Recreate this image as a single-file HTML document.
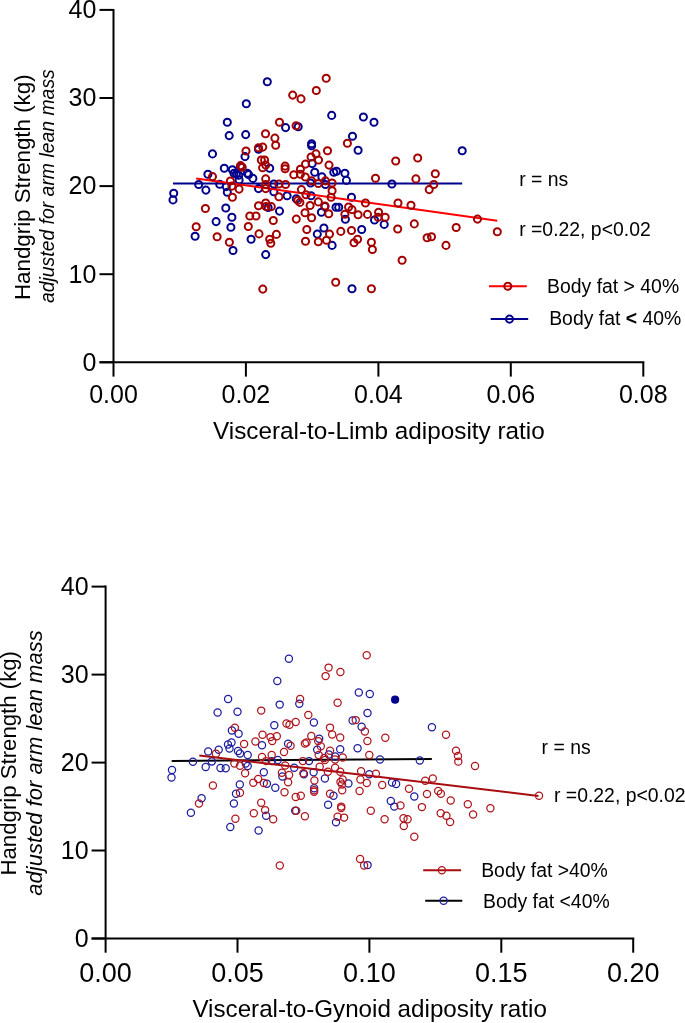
<!DOCTYPE html>
<html><head><meta charset="utf-8"><style>html,body{margin:0;padding:0;background:#fff;width:685px;height:1023px;overflow:hidden;position:relative}</style></head>
<body>
<svg width="685" height="1023" viewBox="0 0 685 1023" style="position:absolute;left:0;top:0;will-change:transform">
<rect width="685" height="1023" fill="#fff"/>
<g stroke="#000" stroke-width="2" fill="none">
<path d="M113.5 8.9 V362.3 M99.5 362.3 H644.3"/>
<path d="M99.5 362.3 H113.5"/>
<path d="M99.5 274.2 H113.5"/>
<path d="M99.5 186.1 H113.5"/>
<path d="M99.5 98.0 H113.5"/>
<path d="M99.5 9.9 H113.5"/>
<path d="M113.5 362.3 V376.6"/>
<path d="M245.9 362.3 V376.6"/>
<path d="M378.4 362.3 V376.6"/>
<path d="M510.8 362.3 V376.6"/>
<path d="M643.3 362.3 V376.6"/>
</g>
<g font-family="Liberation Sans, sans-serif" font-size="25" fill="#000">
<text x="96.3" y="370.6" text-anchor="end">0</text>
<text x="96.3" y="282.5" text-anchor="end">10</text>
<text x="96.3" y="194.4" text-anchor="end">20</text>
<text x="96.3" y="106.3" text-anchor="end">30</text>
<text x="96.3" y="18.2" text-anchor="end">40</text>
<text x="113.5" y="403" text-anchor="middle">0.00</text>
<text x="245.9" y="403" text-anchor="middle">0.02</text>
<text x="378.4" y="403" text-anchor="middle">0.04</text>
<text x="510.8" y="403" text-anchor="middle">0.06</text>
<text x="643.3" y="403" text-anchor="middle">0.08</text>
</g>
<text font-family="Liberation Sans, sans-serif" font-size="24.3" x="213" y="438.5">Visceral-to-Limb adiposity ratio</text>
<text font-family="Liberation Sans, sans-serif" font-size="22.3" transform="translate(30.4 300) rotate(-90)">Handgrip Strength (kg)</text>
<text font-family="Liberation Sans, sans-serif" font-size="19.4" font-style="italic" transform="translate(53.9 303.1) rotate(-90)">adjusted for arm lean mass</text>
<g font-family="Liberation Sans, sans-serif" font-size="19.4" fill="#000">
<text x="519.2" y="186.2">r = ns</text>
<text x="519.2" y="235.5">r =0.22, p&lt;0.02</text>
<text x="547.1" y="292.8">Body fat &gt; 40%</text>
<text x="549.2" y="325.4">Body fat <tspan font-weight="bold">&lt;</tspan> 40%</text>
</g>
<path d="M489 286.2 H526.8" stroke="#ff0000" stroke-width="2"/>
<path d="M490.7 319.1 H528.2" stroke="#00008c" stroke-width="2"/>
<g fill="none" stroke-width="2.0" stroke="#00008c"><circle cx="267.3" cy="81.8" r="3.55"/><circle cx="246.3" cy="103.8" r="3.55"/><circle cx="227.3" cy="122.2" r="3.55"/><circle cx="229.2" cy="135.6" r="3.55"/><circle cx="245.7" cy="134.6" r="3.55"/><circle cx="212.5" cy="153.9" r="3.55"/><circle cx="285.6" cy="127.6" r="3.55"/><circle cx="298.2" cy="126.8" r="3.55"/><circle cx="258.5" cy="149.3" r="3.55"/><circle cx="245.0" cy="156.6" r="3.55"/><circle cx="331.7" cy="115.4" r="3.55"/><circle cx="363.4" cy="117.0" r="3.55"/><circle cx="374.0" cy="122.3" r="3.55"/><circle cx="352.5" cy="136.2" r="3.55"/><circle cx="358.1" cy="150.3" r="3.55"/><circle cx="311.6" cy="143.7" r="3.55"/><circle cx="311.6" cy="145.7" r="3.55"/><circle cx="462.2" cy="150.8" r="3.55"/><circle cx="207.9" cy="174.3" r="3.55"/><circle cx="224.3" cy="168.2" r="3.55"/><circle cx="232.4" cy="169.7" r="3.55"/><circle cx="234.0" cy="173.3" r="3.55"/><circle cx="198.7" cy="184.5" r="3.55"/><circle cx="205.9" cy="190.1" r="3.55"/><circle cx="173.7" cy="193.2" r="3.55"/><circle cx="173.0" cy="199.9" r="3.55"/><circle cx="219.7" cy="184.3" r="3.55"/><circle cx="226.3" cy="186.6" r="3.55"/><circle cx="227.3" cy="192.2" r="3.55"/><circle cx="240.5" cy="166.5" r="3.55"/><circle cx="238.7" cy="175.2" r="3.55"/><circle cx="236.4" cy="174.0" r="3.55"/><circle cx="248.6" cy="174.6" r="3.55"/><circle cx="239.1" cy="179.9" r="3.55"/><circle cx="247.3" cy="173.3" r="3.55"/><circle cx="252.9" cy="178.4" r="3.55"/><circle cx="269.7" cy="168.2" r="3.55"/><circle cx="258.5" cy="188.6" r="3.55"/><circle cx="273.8" cy="184.0" r="3.55"/><circle cx="273.8" cy="191.7" r="3.55"/><circle cx="287.1" cy="195.8" r="3.55"/><circle cx="296.3" cy="198.8" r="3.55"/><circle cx="268.1" cy="207.5" r="3.55"/><circle cx="312.2" cy="163.6" r="3.55"/><circle cx="314.7" cy="172.3" r="3.55"/><circle cx="333.8" cy="172.3" r="3.55"/><circle cx="336.5" cy="171.3" r="3.55"/><circle cx="344.9" cy="173.3" r="3.55"/><circle cx="321.9" cy="176.9" r="3.55"/><circle cx="310.6" cy="183.0" r="3.55"/><circle cx="325.4" cy="184.5" r="3.55"/><circle cx="346.4" cy="180.4" r="3.55"/><circle cx="311.1" cy="195.8" r="3.55"/><circle cx="351.5" cy="197.3" r="3.55"/><circle cx="336.0" cy="207.3" r="3.55"/><circle cx="338.7" cy="207.3" r="3.55"/><circle cx="391.9" cy="184.0" r="3.55"/><circle cx="225.8" cy="208.0" r="3.55"/><circle cx="231.9" cy="217.3" r="3.55"/><circle cx="216.1" cy="221.6" r="3.55"/><circle cx="230.9" cy="227.3" r="3.55"/><circle cx="195.1" cy="236.2" r="3.55"/><circle cx="233.0" cy="250.5" r="3.55"/><circle cx="279.5" cy="211.1" r="3.55"/><circle cx="251.1" cy="239.2" r="3.55"/><circle cx="265.7" cy="254.6" r="3.55"/><circle cx="324.9" cy="206.5" r="3.55"/><circle cx="321.4" cy="212.2" r="3.55"/><circle cx="345.4" cy="219.3" r="3.55"/><circle cx="374.5" cy="220.0" r="3.55"/><circle cx="323.9" cy="228.0" r="3.55"/><circle cx="317.3" cy="234.1" r="3.55"/><circle cx="361.7" cy="229.5" r="3.55"/><circle cx="332.1" cy="245.4" r="3.55"/><circle cx="384.2" cy="224.4" r="3.55"/><circle cx="352.0" cy="288.8" r="3.55"/><circle cx="509.5" cy="319.1" r="3.55"/></g>
<path d="M173 183.5 H462.2" stroke="#00008c" stroke-width="2"/>
<path d="M196.2 178.4 L497.3 220.8" stroke="#ff0000" stroke-width="2"/>
<g fill="none" stroke-width="2.0" stroke="#a50000"><circle cx="292.7" cy="95.1" r="3.55"/><circle cx="301.0" cy="98.9" r="3.55"/><circle cx="316.3" cy="90.5" r="3.55"/><circle cx="326.2" cy="78.2" r="3.55"/><circle cx="279.5" cy="122.2" r="3.55"/><circle cx="296.1" cy="125.8" r="3.55"/><circle cx="265.5" cy="133.8" r="3.55"/><circle cx="274.9" cy="138.1" r="3.55"/><circle cx="275.7" cy="145.2" r="3.55"/><circle cx="258.5" cy="147.8" r="3.55"/><circle cx="262.8" cy="147.1" r="3.55"/><circle cx="246.0" cy="151.0" r="3.55"/><circle cx="347.4" cy="143.2" r="3.55"/><circle cx="327.5" cy="150.8" r="3.55"/><circle cx="316.0" cy="153.9" r="3.55"/><circle cx="311.1" cy="157.0" r="3.55"/><circle cx="318.5" cy="160.0" r="3.55"/><circle cx="417.7" cy="158.0" r="3.55"/><circle cx="395.7" cy="161.0" r="3.55"/><circle cx="212.5" cy="176.6" r="3.55"/><circle cx="230.4" cy="181.0" r="3.55"/><circle cx="231.9" cy="186.1" r="3.55"/><circle cx="232.4" cy="197.3" r="3.55"/><circle cx="240.6" cy="165.6" r="3.55"/><circle cx="242.2" cy="167.2" r="3.55"/><circle cx="261.3" cy="160.0" r="3.55"/><circle cx="264.6" cy="160.0" r="3.55"/><circle cx="265.7" cy="165.1" r="3.55"/><circle cx="262.6" cy="167.7" r="3.55"/><circle cx="285.1" cy="166.1" r="3.55"/><circle cx="285.1" cy="168.7" r="3.55"/><circle cx="293.8" cy="174.8" r="3.55"/><circle cx="300.4" cy="169.2" r="3.55"/><circle cx="300.4" cy="174.3" r="3.55"/><circle cx="305.5" cy="164.1" r="3.55"/><circle cx="305.3" cy="177.0" r="3.55"/><circle cx="265.7" cy="178.9" r="3.55"/><circle cx="265.7" cy="184.5" r="3.55"/><circle cx="265.7" cy="188.6" r="3.55"/><circle cx="239.1" cy="189.1" r="3.55"/><circle cx="278.9" cy="184.0" r="3.55"/><circle cx="285.6" cy="184.5" r="3.55"/><circle cx="278.9" cy="196.8" r="3.55"/><circle cx="301.4" cy="189.6" r="3.55"/><circle cx="297.8" cy="200.4" r="3.55"/><circle cx="299.9" cy="202.4" r="3.55"/><circle cx="258.5" cy="205.8" r="3.55"/><circle cx="265.7" cy="203.0" r="3.55"/><circle cx="266.0" cy="206.5" r="3.55"/><circle cx="271.3" cy="206.6" r="3.55"/><circle cx="329.0" cy="165.1" r="3.55"/><circle cx="311.6" cy="180.9" r="3.55"/><circle cx="318.3" cy="183.5" r="3.55"/><circle cx="325.4" cy="180.9" r="3.55"/><circle cx="332.1" cy="183.0" r="3.55"/><circle cx="375.5" cy="178.2" r="3.55"/><circle cx="332.1" cy="190.7" r="3.55"/><circle cx="331.1" cy="197.3" r="3.55"/><circle cx="306.0" cy="194.7" r="3.55"/><circle cx="365.5" cy="203.0" r="3.55"/><circle cx="318.3" cy="201.9" r="3.55"/><circle cx="310.1" cy="205.5" r="3.55"/><circle cx="324.9" cy="206.0" r="3.55"/><circle cx="348.6" cy="207.0" r="3.55"/><circle cx="352.0" cy="209.6" r="3.55"/><circle cx="415.9" cy="178.9" r="3.55"/><circle cx="435.3" cy="173.8" r="3.55"/><circle cx="433.8" cy="184.5" r="3.55"/><circle cx="429.2" cy="189.6" r="3.55"/><circle cx="398.0" cy="203.0" r="3.55"/><circle cx="411.0" cy="205.3" r="3.55"/><circle cx="205.4" cy="208.5" r="3.55"/><circle cx="196.2" cy="226.7" r="3.55"/><circle cx="217.1" cy="236.7" r="3.55"/><circle cx="229.4" cy="242.3" r="3.55"/><circle cx="249.8" cy="216.0" r="3.55"/><circle cx="256.0" cy="216.0" r="3.55"/><circle cx="273.3" cy="220.5" r="3.55"/><circle cx="296.3" cy="219.1" r="3.55"/><circle cx="305.0" cy="212.7" r="3.55"/><circle cx="248.3" cy="226.5" r="3.55"/><circle cx="259.0" cy="233.9" r="3.55"/><circle cx="276.4" cy="234.4" r="3.55"/><circle cx="269.7" cy="239.2" r="3.55"/><circle cx="270.8" cy="243.3" r="3.55"/><circle cx="306.8" cy="229.5" r="3.55"/><circle cx="305.5" cy="241.3" r="3.55"/><circle cx="328.7" cy="213.7" r="3.55"/><circle cx="344.9" cy="214.2" r="3.55"/><circle cx="358.1" cy="214.7" r="3.55"/><circle cx="367.5" cy="214.4" r="3.55"/><circle cx="311.6" cy="217.8" r="3.55"/><circle cx="329.5" cy="234.1" r="3.55"/><circle cx="340.8" cy="231.4" r="3.55"/><circle cx="351.5" cy="230.5" r="3.55"/><circle cx="318.3" cy="241.8" r="3.55"/><circle cx="326.5" cy="240.3" r="3.55"/><circle cx="357.6" cy="239.2" r="3.55"/><circle cx="354.0" cy="242.8" r="3.55"/><circle cx="371.4" cy="242.3" r="3.55"/><circle cx="372.4" cy="249.5" r="3.55"/><circle cx="378.6" cy="212.2" r="3.55"/><circle cx="378.1" cy="217.3" r="3.55"/><circle cx="385.2" cy="217.3" r="3.55"/><circle cx="414.3" cy="223.9" r="3.55"/><circle cx="397.7" cy="229.0" r="3.55"/><circle cx="427.1" cy="237.7" r="3.55"/><circle cx="431.5" cy="236.7" r="3.55"/><circle cx="446.0" cy="245.4" r="3.55"/><circle cx="477.5" cy="219.1" r="3.55"/><circle cx="456.2" cy="227.5" r="3.55"/><circle cx="497.3" cy="231.8" r="3.55"/><circle cx="262.8" cy="289.1" r="3.55"/><circle cx="402.1" cy="260.2" r="3.55"/><circle cx="335.7" cy="282.3" r="3.55"/><circle cx="371.4" cy="288.8" r="3.55"/><circle cx="507.8" cy="286.2" r="3.55"/></g>
<g stroke="#000" stroke-width="2" fill="none">
<path d="M105.6 585.6 V938.5 M91.6 938.5 H634.2"/>
<path d="M91.6 938.5 H105.6"/>
<path d="M91.6 850.5 H105.6"/>
<path d="M91.6 762.6 H105.6"/>
<path d="M91.6 674.6 H105.6"/>
<path d="M91.6 586.6 H105.6"/>
<path d="M105.6 938.5 V952.7"/>
<path d="M237.5 938.5 V952.7"/>
<path d="M369.4 938.5 V952.7"/>
<path d="M501.3 938.5 V952.7"/>
<path d="M633.2 938.5 V952.7"/>
</g>
<g font-family="Liberation Sans, sans-serif" font-size="25" fill="#000">
<text x="88.6" y="947.3" text-anchor="end">0</text>
<text x="88.6" y="859.3" text-anchor="end">10</text>
<text x="88.6" y="771.4" text-anchor="end">20</text>
<text x="88.6" y="683.4" text-anchor="end">30</text>
<text x="88.6" y="595.4" text-anchor="end">40</text>
</g>
<g font-family="Liberation Sans, sans-serif" font-size="27" fill="#000">
<text x="105.6" y="981.9" text-anchor="middle">0.00</text>
<text x="237.5" y="981.9" text-anchor="middle">0.05</text>
<text x="369.4" y="981.9" text-anchor="middle">0.10</text>
<text x="501.3" y="981.9" text-anchor="middle">0.15</text>
<text x="633.2" y="981.9" text-anchor="middle">0.20</text>
</g>
<text font-family="Liberation Sans, sans-serif" font-size="24.2" x="192.4" y="1017.4">Visceral-to-Gynoid adiposity ratio</text>
<text font-family="Liberation Sans, sans-serif" font-size="22.2" transform="translate(15.8 875.5) rotate(-90)">Handgrip Strength (kg)</text>
<text font-family="Liberation Sans, sans-serif" font-size="22" font-style="italic" transform="translate(42.3 895.7) rotate(-90)">adjusted for arm lean mass</text>
<g font-family="Liberation Sans, sans-serif" font-size="19.4" fill="#000">
<text x="541.6" y="754.4">r = ns</text>
<text x="554" y="802">r =0.22, p&lt;0.02</text>
<text x="481.2" y="877.2">Body fat &gt;40%</text>
<text x="483" y="907.8">Body fat &lt;40%</text>
</g>
<path d="M423.2 870.2 H461.1" stroke="#a80c10" stroke-width="2"/>
<path d="M425.2 900.8 H462.3" stroke="#000000" stroke-width="2"/>
<path d="M171.7 760.9 L431.8 759" stroke="#000000" stroke-width="2"/>
<g fill="none" stroke-width="1.25" stroke="#1c1ca0"><circle cx="277.3" cy="681.0" r="3.6"/><circle cx="288.9" cy="658.8" r="3.6"/><circle cx="358.8" cy="692.4" r="3.6"/><circle cx="369.8" cy="694.0" r="3.6"/><circle cx="228.1" cy="699.0" r="3.6"/><circle cx="217.6" cy="712.5" r="3.6"/><circle cx="237.5" cy="711.7" r="3.6"/><circle cx="279.7" cy="704.6" r="3.6"/><circle cx="274.3" cy="725.3" r="3.6"/><circle cx="231.9" cy="730.4" r="3.6"/><circle cx="238.6" cy="733.8" r="3.6"/><circle cx="228.0" cy="744.5" r="3.6"/><circle cx="231.5" cy="742.5" r="3.6"/><circle cx="229.5" cy="748.5" r="3.6"/><circle cx="299.3" cy="703.8" r="3.6"/><circle cx="313.9" cy="722.5" r="3.6"/><circle cx="319.2" cy="738.8" r="3.6"/><circle cx="352.6" cy="720.4" r="3.6"/><circle cx="367.5" cy="713.0" r="3.6"/><circle cx="361.6" cy="726.8" r="3.6"/><circle cx="431.9" cy="727.3" r="3.6"/><circle cx="192.9" cy="761.8" r="3.6"/><circle cx="172.0" cy="770.0" r="3.6"/><circle cx="171.5" cy="777.5" r="3.6"/><circle cx="208.2" cy="751.4" r="3.6"/><circle cx="218.7" cy="749.7" r="3.6"/><circle cx="211.8" cy="761.4" r="3.6"/><circle cx="205.7" cy="766.9" r="3.6"/><circle cx="220.5" cy="768.0" r="3.6"/><circle cx="238.0" cy="751.0" r="3.6"/><circle cx="240.0" cy="753.5" r="3.6"/><circle cx="247.7" cy="754.9" r="3.6"/><circle cx="262.0" cy="745.2" r="3.6"/><circle cx="271.7" cy="761.1" r="3.6"/><circle cx="277.8" cy="760.0" r="3.6"/><circle cx="245.7" cy="763.6" r="3.6"/><circle cx="247.7" cy="765.9" r="3.6"/><circle cx="225.7" cy="768.2" r="3.6"/><circle cx="263.8" cy="772.3" r="3.6"/><circle cx="282.4" cy="776.4" r="3.6"/><circle cx="266.9" cy="783.8" r="3.6"/><circle cx="239.8" cy="784.5" r="3.6"/><circle cx="288.1" cy="743.7" r="3.6"/><circle cx="317.2" cy="749.8" r="3.6"/><circle cx="340.2" cy="749.3" r="3.6"/><circle cx="328.9" cy="754.4" r="3.6"/><circle cx="335.1" cy="756.5" r="3.6"/><circle cx="309.0" cy="761.1" r="3.6"/><circle cx="294.2" cy="767.7" r="3.6"/><circle cx="313.6" cy="772.3" r="3.6"/><circle cx="303.9" cy="774.3" r="3.6"/><circle cx="324.9" cy="778.5" r="3.6"/><circle cx="348.4" cy="783.5" r="3.6"/><circle cx="357.6" cy="748.3" r="3.6"/><circle cx="380.0" cy="759.5" r="3.6"/><circle cx="419.8" cy="760.5" r="3.6"/><circle cx="369.3" cy="774.3" r="3.6"/><circle cx="392.0" cy="782.5" r="3.6"/><circle cx="396.1" cy="784.0" r="3.6"/><circle cx="201.6" cy="798.2" r="3.6"/><circle cx="190.9" cy="812.7" r="3.6"/><circle cx="236.0" cy="793.8" r="3.6"/><circle cx="233.9" cy="803.5" r="3.6"/><circle cx="275.3" cy="787.7" r="3.6"/><circle cx="266.1" cy="815.8" r="3.6"/><circle cx="230.3" cy="827.0" r="3.6"/><circle cx="258.6" cy="830.5" r="3.6"/><circle cx="314.1" cy="788.2" r="3.6"/><circle cx="295.2" cy="810.7" r="3.6"/><circle cx="333.5" cy="795.8" r="3.6"/><circle cx="328.1" cy="804.8" r="3.6"/><circle cx="336.0" cy="822.2" r="3.6"/><circle cx="414.3" cy="796.4" r="3.6"/><circle cx="390.8" cy="801.0" r="3.6"/><circle cx="394.3" cy="806.6" r="3.6"/><circle cx="367.6" cy="865.1" r="3.6"/><circle cx="443.6" cy="900.8" r="3.6"/></g>
<path d="M199.3 755.4 L538.5 796" stroke="#a80c10" stroke-width="2"/>
<g fill="none" stroke-width="1.25" stroke="#b0141c"><circle cx="328.6" cy="667.6" r="3.6"/><circle cx="325.6" cy="676.1" r="3.6"/><circle cx="340.4" cy="671.9" r="3.6"/><circle cx="366.7" cy="655.2" r="3.6"/><circle cx="300.1" cy="699.0" r="3.6"/><circle cx="261.2" cy="710.6" r="3.6"/><circle cx="234.9" cy="727.8" r="3.6"/><circle cx="262.5" cy="734.8" r="3.6"/><circle cx="270.5" cy="737.1" r="3.6"/><circle cx="276.8" cy="736.2" r="3.6"/><circle cx="255.4" cy="741.5" r="3.6"/><circle cx="272.2" cy="741.1" r="3.6"/><circle cx="337.6" cy="702.8" r="3.6"/><circle cx="308.3" cy="715.0" r="3.6"/><circle cx="295.7" cy="721.9" r="3.6"/><circle cx="286.5" cy="723.5" r="3.6"/><circle cx="289.5" cy="724.8" r="3.6"/><circle cx="330.0" cy="727.6" r="3.6"/><circle cx="332.2" cy="734.5" r="3.6"/><circle cx="340.2" cy="737.5" r="3.6"/><circle cx="311.3" cy="736.0" r="3.6"/><circle cx="304.9" cy="743.5" r="3.6"/><circle cx="306.5" cy="742.5" r="3.6"/><circle cx="355.7" cy="720.1" r="3.6"/><circle cx="364.9" cy="731.4" r="3.6"/><circle cx="385.3" cy="737.8" r="3.6"/><circle cx="367.4" cy="741.0" r="3.6"/><circle cx="446.0" cy="734.7" r="3.6"/><circle cx="215.9" cy="753.7" r="3.6"/><circle cx="212.9" cy="785.5" r="3.6"/><circle cx="244.1" cy="744.0" r="3.6"/><circle cx="262.0" cy="757.0" r="3.6"/><circle cx="271.7" cy="754.9" r="3.6"/><circle cx="266.1" cy="761.1" r="3.6"/><circle cx="284.0" cy="752.0" r="3.6"/><circle cx="285.2" cy="765.4" r="3.6"/><circle cx="234.4" cy="763.6" r="3.6"/><circle cx="240.0" cy="765.7" r="3.6"/><circle cx="245.1" cy="773.3" r="3.6"/><circle cx="281.9" cy="772.8" r="3.6"/><circle cx="258.2" cy="779.0" r="3.6"/><circle cx="253.3" cy="782.8" r="3.6"/><circle cx="263.8" cy="783.0" r="3.6"/><circle cx="318.2" cy="741.1" r="3.6"/><circle cx="290.6" cy="745.7" r="3.6"/><circle cx="320.8" cy="746.2" r="3.6"/><circle cx="318.7" cy="754.9" r="3.6"/><circle cx="330.0" cy="750.8" r="3.6"/><circle cx="324.3" cy="758.0" r="3.6"/><circle cx="324.9" cy="760.0" r="3.6"/><circle cx="335.1" cy="759.5" r="3.6"/><circle cx="342.7" cy="757.5" r="3.6"/><circle cx="302.9" cy="761.1" r="3.6"/><circle cx="319.7" cy="766.7" r="3.6"/><circle cx="335.1" cy="767.7" r="3.6"/><circle cx="303.4" cy="773.3" r="3.6"/><circle cx="327.9" cy="771.8" r="3.6"/><circle cx="340.2" cy="771.8" r="3.6"/><circle cx="289.1" cy="774.9" r="3.6"/><circle cx="314.4" cy="780.5" r="3.6"/><circle cx="342.7" cy="779.5" r="3.6"/><circle cx="340.5" cy="782.0" r="3.6"/><circle cx="342.0" cy="784.5" r="3.6"/><circle cx="288.1" cy="782.3" r="3.6"/><circle cx="369.3" cy="754.9" r="3.6"/><circle cx="361.1" cy="771.3" r="3.6"/><circle cx="375.9" cy="773.8" r="3.6"/><circle cx="360.4" cy="779.5" r="3.6"/><circle cx="366.8" cy="783.0" r="3.6"/><circle cx="382.2" cy="785.0" r="3.6"/><circle cx="425.2" cy="780.8" r="3.6"/><circle cx="456.0" cy="750.8" r="3.6"/><circle cx="458.0" cy="756.0" r="3.6"/><circle cx="458.3" cy="761.6" r="3.6"/><circle cx="475.0" cy="765.9" r="3.6"/><circle cx="432.8" cy="778.5" r="3.6"/><circle cx="539.0" cy="795.7" r="3.6"/><circle cx="490.4" cy="808.2" r="3.6"/><circle cx="199.0" cy="803.5" r="3.6"/><circle cx="240.0" cy="792.8" r="3.6"/><circle cx="284.5" cy="792.3" r="3.6"/><circle cx="261.2" cy="802.7" r="3.6"/><circle cx="265.1" cy="810.1" r="3.6"/><circle cx="253.8" cy="813.2" r="3.6"/><circle cx="273.2" cy="819.3" r="3.6"/><circle cx="235.4" cy="818.8" r="3.6"/><circle cx="314.1" cy="790.2" r="3.6"/><circle cx="314.1" cy="791.8" r="3.6"/><circle cx="295.7" cy="796.9" r="3.6"/><circle cx="300.8" cy="795.8" r="3.6"/><circle cx="296.2" cy="810.7" r="3.6"/><circle cx="304.9" cy="816.3" r="3.6"/><circle cx="342.2" cy="790.2" r="3.6"/><circle cx="330.0" cy="793.8" r="3.6"/><circle cx="341.2" cy="806.6" r="3.6"/><circle cx="341.2" cy="808.1" r="3.6"/><circle cx="337.6" cy="816.8" r="3.6"/><circle cx="344.1" cy="817.6" r="3.6"/><circle cx="359.6" cy="791.0" r="3.6"/><circle cx="409.0" cy="788.7" r="3.6"/><circle cx="400.5" cy="805.5" r="3.6"/><circle cx="421.9" cy="807.1" r="3.6"/><circle cx="370.8" cy="810.7" r="3.6"/><circle cx="384.6" cy="819.3" r="3.6"/><circle cx="403.5" cy="818.3" r="3.6"/><circle cx="407.6" cy="819.3" r="3.6"/><circle cx="403.8" cy="826.0" r="3.6"/><circle cx="427.0" cy="794.0" r="3.6"/><circle cx="438.2" cy="791.0" r="3.6"/><circle cx="440.9" cy="793.8" r="3.6"/><circle cx="450.7" cy="800.4" r="3.6"/><circle cx="467.8" cy="804.3" r="3.6"/><circle cx="440.7" cy="813.2" r="3.6"/><circle cx="446.4" cy="815.8" r="3.6"/><circle cx="450.1" cy="821.9" r="3.6"/><circle cx="473.1" cy="814.5" r="3.6"/><circle cx="279.8" cy="865.5" r="3.6"/><circle cx="414.3" cy="836.8" r="3.6"/><circle cx="360.1" cy="858.9" r="3.6"/><circle cx="364.1" cy="865.4" r="3.6"/><circle cx="441.9" cy="870.2" r="3.6"/></g>
<circle cx="395.1" cy="699.7" r="4.1" fill="#00008c"/>
</svg>
</body></html>
